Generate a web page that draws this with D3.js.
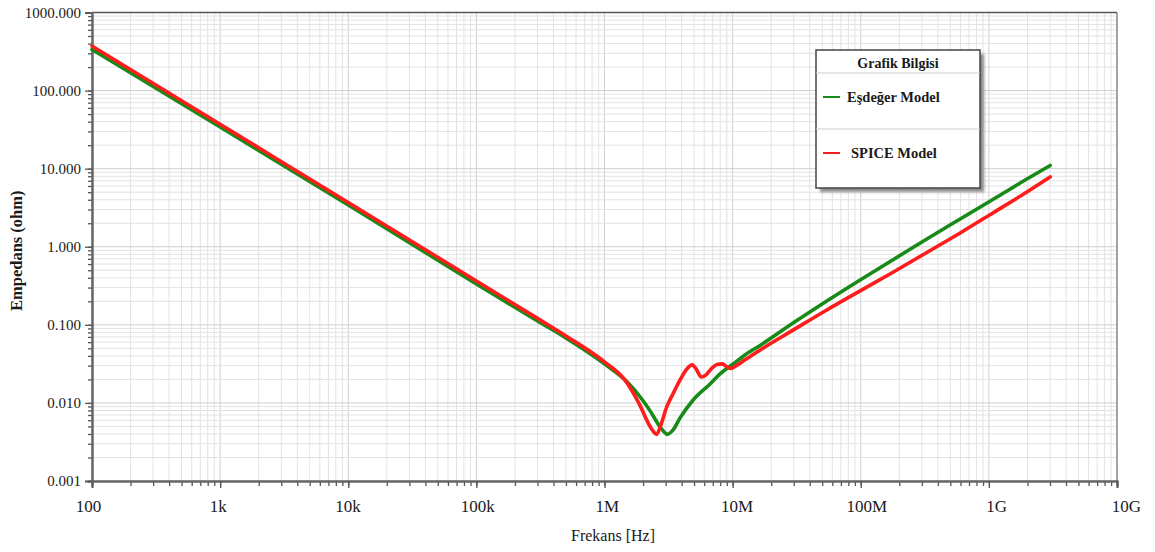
<!DOCTYPE html>
<html>
<head>
<meta charset="utf-8">
<script src="https://cdn.jsdelivr.net/npm/d3@7"></script>
<style>
  html, body { margin: 0; padding: 0; background: #fff; }
  svg { display: block; }
  text { font-family: "Liberation Serif", "Times New Roman", serif; fill: #1a1a1a; }
</style>
</head>
<body>
<svg id="chart" width="1155" height="552"></svg>
<script>
// Impedance vs. frequency of the capacitor, two models
const eqFreq = [100, 1000, 1e4, 1e5, 3e5, 5e5, 1.0e6, 1.5e6, 1.9e6, 2.27e6, 2.62e6, 2.87e6, 3.08e6,
  3.43e6, 3.89e6, 4.92e6, 6.67e6, 7.98e6, 10.1e6, 12.5e6, 16.4e6, 29.8e6, 54.3e6, 98.9e6,
  180e6, 328e6, 597e6, 1.09e9, 1.98e9, 3.01e9];
const eqZ = [336, 34.2, 3.43, 0.334, 0.112, 0.0679, 0.0316, 0.0186, 0.0119, 0.00791, 0.00538, 0.00438, 0.00395,
  0.00451, 0.00643, 0.0109, 0.0175, 0.0235, 0.0316, 0.0412, 0.0545, 0.106, 0.202, 0.376,
  0.687, 1.26, 2.27, 4.09, 7.38, 11.0];

const spiceFreq = [100, 1000, 1e4, 1e5, 3e5, 5e5, 1.0e6, 1.42e6, 1.90e6, 2.19e6, 2.39e6, 2.55e6, 2.72e6,
  3.06e6, 3.45e6, 3.89e6, 4.39e6, 4.83e6, 5.19e6, 5.68e6, 6.21e6, 6.79e6, 7.57e6, 8.28e6,
  9.06e6, 9.73e6, 10.6e6, 12.5e6, 16.4e6, 29.8e6, 54.3e6, 98.9e6, 180e6, 328e6, 597e6,
  1.09e9, 1.98e9, 3.01e9];
const spiceZ = [372, 37.0, 3.69, 0.365, 0.121, 0.0721, 0.0335, 0.0203, 0.00916, 0.00555, 0.00438, 0.00395, 0.00493,
  0.00889, 0.0134, 0.0197, 0.0272, 0.0307, 0.0272, 0.0215, 0.0229, 0.0272, 0.0311, 0.0316,
  0.0289, 0.0277, 0.0298, 0.0356, 0.0477, 0.0861, 0.155, 0.272, 0.475, 0.845, 1.50,
  2.75, 5.03, 7.83];

const xTickValues = [1e2, 1e3, 1e4, 1e5, 1e6, 1e7, 1e8, 1e9, 1e10];
const xTickLabels = ["100", "1k", "10k", "100k", "1M", "10M", "100M", "1G", "10G"];
const yTickValues = [1e-3, 1e-2, 1e-1, 1, 10, 100, 1000];
const yTickLabels = ["0.001", "0.010", "0.100", "1.000", "10.000", "100.000", "1000.000"];

const seriesNames = ["Eşdeğer Model", "SPICE Model"];
const seriesColors = ["#178a17", "#ff1c1c"];
const legendTitle = "Grafik Bilgisi";

const svg = d3.select("#chart");
const m = { left: 92, top: 12.5, right: 1117, bottom: 481 };

const x = d3.scaleLog().domain([1e2, 1e10]).range([m.left, m.right]);
const y = d3.scaleLog().domain([1e-3, 1e3]).range([m.bottom, m.top]);

// grid
const xMinor = x.ticks(10);
const yMinor = y.ticks(10);
const grid = svg.append("g");
grid.selectAll("line.gx").data(xMinor).join("line")
  .attr("x1", d => x(d)).attr("x2", d => x(d))
  .attr("y1", m.top).attr("y2", m.bottom)
  .attr("stroke", d => xTickValues.includes(d) ? "#cfcfcf" : "#e2e2e2")
  .attr("stroke-width", 1);
grid.selectAll("line.gy").data(yMinor).join("line")
  .attr("y1", d => y(d)).attr("y2", d => y(d))
  .attr("x1", m.left).attr("x2", m.right)
  .attr("stroke", d => yTickValues.includes(d) ? "#cfcfcf" : "#e2e2e2")
  .attr("stroke-width", 1);

// frame top and right
svg.append("line").attr("x1", m.left).attr("x2", m.right).attr("y1", m.top).attr("y2", m.top)
  .attr("stroke", "#555").attr("stroke-width", 1.5);
svg.append("line").attr("x1", m.right).attr("x2", m.right).attr("y1", m.top).attr("y2", m.bottom)
  .attr("stroke", "#777").attr("stroke-width", 1.2);

// axes
const xAxisMinor = d3.axisBottom(x).tickValues(xMinor).tickSize(5).tickFormat("");
const xAxis = d3.axisBottom(x).tickValues(xTickValues).tickSize(7)
  .tickFormat((d, i) => xTickLabels[i]).tickPadding(12);
const yAxisMinor = d3.axisLeft(y).tickValues(yMinor).tickSize(4).tickFormat("");
const yAxis = d3.axisLeft(y).tickValues(yTickValues).tickSize(7)
  .tickFormat((d, i) => yTickLabels[i]).tickPadding(4);

function styleAxis(g) {
  g.select(".domain").attr("stroke", "#666").attr("stroke-width", 2);
  g.selectAll(".tick line").attr("stroke", "#555").attr("stroke-width", 1.3);
}

const gxm = svg.append("g").attr("transform", `translate(0,${m.bottom})`).call(xAxisMinor);
styleAxis(gxm);
const gx = svg.append("g").attr("transform", `translate(0,${m.bottom})`).call(xAxis);
styleAxis(gx);
// labels drift slightly rightwards along the axis
gx.selectAll("text").style("font-size", "17px").attr("fill", "#1a1a1a")
  .attr("dx", (d, i) => -4 + i * 1.6);

const gym = svg.append("g").attr("transform", `translate(${m.left},0)`).call(yAxisMinor);
styleAxis(gym);
const gy = svg.append("g").attr("transform", `translate(${m.left},0)`).call(yAxis);
styleAxis(gy);
gy.selectAll("text").style("font-size", "15px").attr("fill", "#1a1a1a");

// axis titles
svg.append("text")
  .attr("transform", `translate(22,${(m.top + m.bottom) / 2 + 4}) rotate(-90)`)
  .attr("text-anchor", "middle")
  .style("font-size", "16.5px").style("font-weight", "bold")
  .text("Empedans (ohm)");
svg.append("text")
  .attr("x", 613).attr("y", 541)
  .attr("text-anchor", "middle")
  .style("font-size", "16px")
  .text("Frekans [Hz]");

// curves
const line = d3.line()
  .x(d => x(d[0])).y(d => y(d[1]))
  .curve(d3.curveMonotoneX);

const series = [
  eqFreq.map((f, i) => [f, eqZ[i]]),
  spiceFreq.map((f, i) => [f, spiceZ[i]])
];
svg.append("g").selectAll("path").data(series).join("path")
  .attr("d", line)
  .attr("fill", "none")
  .attr("stroke", (d, i) => seriesColors[i])
  .attr("stroke-width", 3.6)
  .attr("stroke-linejoin", "round")
  .attr("stroke-linecap", "round");

// legend
const lg = svg.append("g").attr("transform", "translate(816,50)");
const lw = 164, lh = 138;
const defs = svg.append("defs");
const f = defs.append("filter").attr("id", "shadow").attr("x", "-10%").attr("y", "-10%")
  .attr("width", "130%").attr("height", "130%");
f.append("feGaussianBlur").attr("stdDeviation", 1.5);
lg.append("rect").attr("x", 4).attr("y", 4).attr("width", lw).attr("height", lh)
  .attr("fill", "#8a8a8a").attr("filter", "url(#shadow)");
lg.append("rect").attr("width", lw).attr("height", lh)
  .attr("fill", "#fff").attr("stroke", "#444").attr("stroke-width", 1.5);
lg.append("text").attr("x", lw / 2).attr("y", 18).attr("text-anchor", "middle")
  .style("font-size", "14px").style("font-weight", "bold").text(legendTitle);
lg.append("line").attr("x1", 0).attr("x2", lw).attr("y1", 23).attr("y2", 23)
  .attr("stroke", "#cfcfcf");
lg.append("line").attr("x1", 0).attr("x2", lw).attr("y1", 79).attr("y2", 79)
  .attr("stroke", "#cfcfcf");
const rowsY = [47, 103];
seriesNames.forEach((name, i) => {
  lg.append("line").attr("x1", 7).attr("x2", 24).attr("y1", rowsY[i]).attr("y2", rowsY[i])
    .attr("stroke", seriesColors[i]).attr("stroke-width", 2);
  lg.append("text").attr("x", i === 0 ? 31 : 35).attr("y", rowsY[i] + 5)
    .style("font-size", "14.5px").style("font-weight", "bold").text(name);
});
</script>
</body>
</html>
